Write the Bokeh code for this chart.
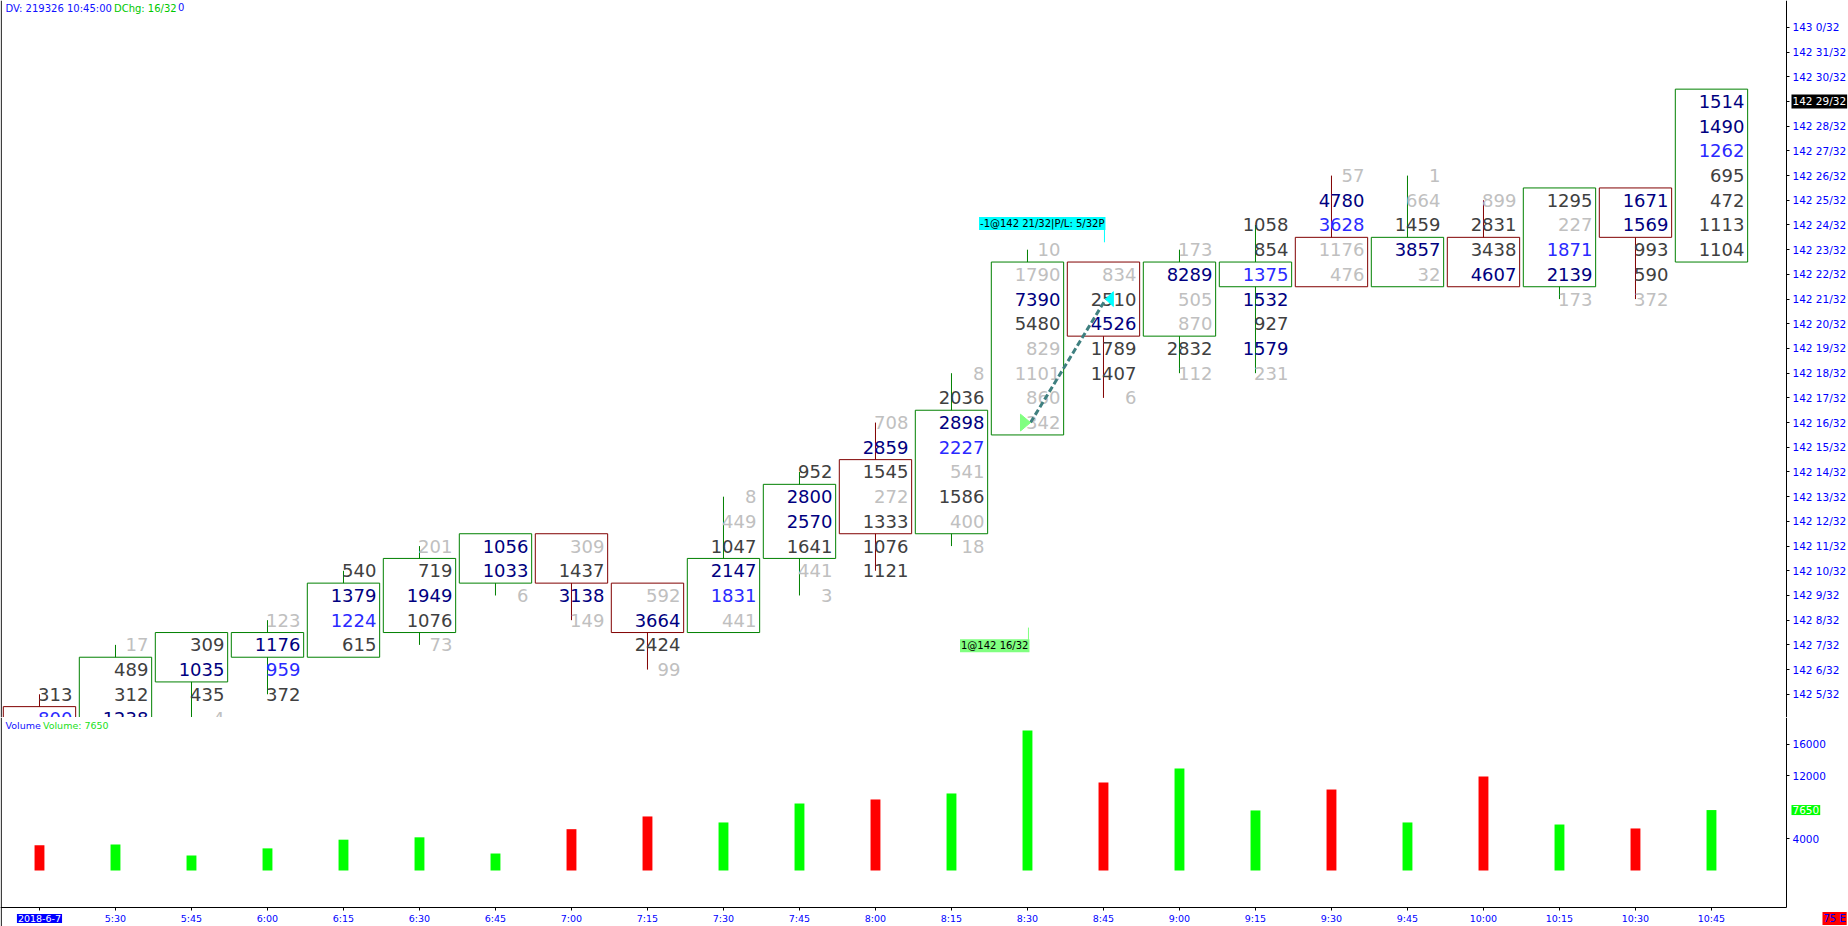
import math
from bokeh.plotting import figure
from bokeh.models import Range1d, FixedTicker, Label, Span, LinearAxis
from bokeh.layouts import column
from bokeh.embed import file_html
from bokeh.resources import INLINE
from bokeh.core.properties import value

FONT = "DejaVu Sans"

# ---------------- data ----------------
times = ["5:15", "5:30", "5:45", "6:00", "6:15", "6:30", "6:45", "7:00", "7:15", "7:30",
         "7:45", "8:00", "8:15", "8:30", "8:45", "9:00", "9:15", "9:30", "9:45", "10:00",
         "10:15", "10:30", "10:45"]
date_label = "2018-6-7"
bar_up = [False, True, True, True, True, True, True, False, False, True, True, False,
          True, True, False, True, True, False, True, False, True, False, True]
# prices in 32nds above 142
high_ticks = [5, 7, 7, 8, 10, 11, 11, 11, 9, 13, 14, 16, 18, 23, 22, 23, 24, 26, 26, 25, 25, 25, 29]
box_top = [4, 6, 7, 7, 9, 10, 11, 11, 9, 10, 13, 14, 16, 22, 22, 22, 22, 23, 23, 23, 25, 25, 29]
box_bot = [2, 2, 6, 7, 7, 8, 10, 10, 8, 8, 11, 12, 12, 16, 20, 20, 22, 22, 22, 22, 22, 24, 23]
cell_values = [
    [313, 800],
    [17, 489, 312, 1238],
    [309, 1035, 435, 4],
    [123, 1176, 959, 372],
    [540, 1379, 1224, 615],
    [201, 719, 1949, 1076, 73],
    [1056, 1033, 6],
    [309, 1437, 3138, 149],
    [592, 3664, 2424, 99],
    [8, 449, 1047, 2147, 1831, 441],
    [952, 2800, 2570, 1641, 441, 3],
    [708, 2859, 1545, 272, 1333, 1076, 1121],
    [8, 2036, 2898, 2227, 541, 1586, 400, 18],
    [10, 1790, 7390, 5480, 829, 1101, 860, 342],
    [834, 2510, 4526, 1789, 1407, 6],
    [173, 8289, 505, 870, 2832, 112],
    [1058, 854, 1375, 1532, 927, 1579, 231],
    [57, 4780, 3628, 1176, 476],
    [1, 664, 1459, 3857, 32],
    [899, 2831, 3438, 4607],
    [1295, 227, 1871, 2139, 173],
    [1671, 1569, 993, 590, 372],
    [1514, 1490, 1262, 695, 472, 1113, 1104],
]
# N = strong (navy), B = blue, D = normal (dark grey), L = light grey
cell_classes = ["DB", "LDDN", "DNDL", "LNBD", "DNBD", "LDNDL", "NNL", "LDNL", "LNDL",
                "LLDNBL", "DNNDLL", "LNDLDDD", "LDNBLDLL", "LLNDLLLL", "LDNDDL", "LNLLDL",
                "DDBNDNL", "LNBLL", "LLDNL", "LDDN", "DLBNL", "NNDDL", "NNBDDDD"]
volumes = [3200, 3300, 1900, 2800, 3900, 4200, 2150, 5230, 6840, 6080, 8480, 8990, 9750,
           17720, 11140, 12910, 7600, 10250, 6080, 11900, 5820, 5320, 7650]
price_ticks = list(range(5, 33))
volume_ticks = [4000, 12000, 16000]
last_price = 29
last_volume = 7650
entry_bar, entry_price, entry_text = 13, 16, "1@142 16/32"
exit_bar, exit_price, exit_text = 14, 21, "-1@142 21/32|P/L: 5/32P"
header_parts = [("DV: 219326 10:45:00", "#1010ff"), ("DChg: 16/32", "#00c800"), ("0", "#1010ff")]
volume_header = [("Volume", "#1010ff"), ("Volume: 7650", "#20e020")]
status_text = "75 E"

# ---------------- styles / layout ----------------
CMAP = {"N": "#000080", "B": "#2a2aff", "D": "#404040", "L": "#c0c0c0"}
UP_BOX, DN_BOX = "#008000", "#800000"
UP_VOL, DN_VOL = "#00ff00", "#ff0000"
HALF_W = 0.476
TEXT_DX = 0.434
X_RANGE = Range1d(-0.513, 23.803)
AXIS_X = 22.987            # right price/volume axis position
VOL_TOP, VOL_BOTTOM = 19367, -7089
VOL_AXIS_Y = -4684         # time axis position
LABEL_Y = -6076
W = 1848


def price_label(p):
    return f"{142 + p // 32} {p % 32}/32"


def style_axis(a, size):
    a.major_label_text_color = "#0000ff"
    a.major_label_text_font = FONT
    a.major_label_text_font_size = size
    a.major_tick_out = 3
    a.major_tick_in = 0
    a.minor_tick_out = 0
    a.minor_tick_in = 0
    a.axis_line_color = "black"
    a.major_tick_line_color = "black"


# ---------------- price panel ----------------
p = figure(output_backend="svg", toolbar_location=None, width=W, height=717,
           x_range=X_RANGE, y_range=Range1d(4.06, 33.089),
           x_axis_location=None, y_axis_location=None,
           min_border=0, outline_line_color=None,
           background_fill_color="white", border_fill_color="white")
p.xgrid.visible = False
p.ygrid.visible = False
ax = LinearAxis(fixed_location=AXIS_X, ticker=FixedTicker(ticks=price_ticks),
                major_label_overrides={t: price_label(t) for t in price_ticks},
                major_label_standoff=3)
style_axis(ax, "10.5px")
p.add_layout(ax, "right")

cx, cy, ct, cc = [], [], [], []
for i, (h, vals, cls) in enumerate(zip(high_ticks, cell_values, cell_classes)):
    for k, (v, c) in enumerate(zip(vals, cls)):
        cx.append(i + TEXT_DX)
        cy.append(h - k)
        ct.append(str(v))
        cc.append(CMAP[c])

# wicks
wx0, wy0, wy1, wc = [], [], [], []
for i, (h, vals) in enumerate(zip(high_ticks, cell_values)):
    low = h - len(vals) + 1
    col = UP_BOX if bar_up[i] else DN_BOX
    if h > box_top[i]:
        wx0.append(i); wy0.append(box_top[i] + 0.5); wy1.append(h); wc.append(col)
    if low < box_bot[i]:
        wx0.append(i); wy0.append(box_bot[i] - 0.5); wy1.append(low); wc.append(col)
p.segment(x0=wx0, y0=wy0, x1=wx0, y1=wy1, line_color=wc, line_width=1)

bx = list(range(len(times)))
p.quad(left=[i - HALF_W for i in bx], right=[i + HALF_W for i in bx],
       top=[t + 0.5 for t in box_top], bottom=[b - 0.5 for b in box_bot],
       fill_color=None, line_color=[UP_BOX if u else DN_BOX for u in bar_up], line_width=1)

p.text(x=cx, y=cy, text=ct, text_color=cc, text_align="right", text_baseline="middle",
       text_font=value(FONT), text_font_size="18px")

# trade markers
ex = entry_bar
p.line(x=[entry_bar + 0.04, exit_bar + 0.03], y=[entry_price, exit_price],
       line_color="#3f8080", line_width=3, line_dash="6 3")
p.patch(x=[ex - 0.092, ex - 0.092, ex + 0.04], y=[entry_price - 0.34, entry_price + 0.34, entry_price],
        fill_color="#80ff80", line_color="#80ff80")
p.patch(x=[exit_bar + 0.13, exit_bar + 0.13, exit_bar + 0.026],
        y=[exit_price - 0.30, exit_price + 0.30, exit_price],
        fill_color="#00ffff", line_color="#00ffff")
p.segment(x0=[exit_bar + 0.013], y0=[exit_price + 2.8], x1=[exit_bar + 0.013], y1=[exit_price + 2.3],
          line_color="#00ffff", line_width=1)
p.segment(x0=[entry_bar + 0.013], y0=[entry_price - 8.3], x1=[entry_bar + 0.013], y1=[entry_price - 8.8],
          line_color="#80ff80", line_width=1)
p.add_layout(Label(x=exit_bar + 0.026, y=exit_price + 3.06, text=exit_text, text_align="right",
                   text_baseline="middle", text_font=FONT, text_font_size="10px",
                   text_color="black", background_fill_color="#00ffff", padding=1))
p.add_layout(Label(x=entry_bar + 0.026, y=entry_price - 9.04, text=entry_text, text_align="right",
                   text_baseline="middle", text_font=FONT, text_font_size="10px",
                   text_color="black", background_fill_color="#80ff80", padding=1))

# last price highlight
p.add_layout(Label(x=AXIS_X, y=last_price, x_offset=5, text=price_label(last_price),
                   text_align="left", text_baseline="middle", text_font=FONT,
                   text_font_size="10.5px", text_color="white", background_fill_color="black",
                   padding=1))

# header
off = 5
for txt, col in header_parts:
    p.add_layout(Label(x=X_RANGE.start, y=33.089, x_offset=off, y_offset=-2, text=txt,
                       text_align="left", text_baseline="top", text_font=FONT,
                       text_font_size="10px", text_color=col))
    off += len(txt) * 5.55 + 3

p.add_layout(Span(location=X_RANGE.start + 0.01, dimension="height", line_color="black", line_width=1))

# ---------------- volume panel ----------------
v = figure(output_backend="svg", toolbar_location=None, width=W, height=209,
           x_range=X_RANGE, y_range=Range1d(VOL_BOTTOM, VOL_TOP),
           x_axis_location=None, y_axis_location=None,
           min_border=0, outline_line_color=None,
           background_fill_color="white", border_fill_color="white")
v.xgrid.visible = False
v.ygrid.visible = False
vy = LinearAxis(fixed_location=AXIS_X, ticker=FixedTicker(ticks=volume_ticks),
                bounds=(VOL_AXIS_Y, VOL_TOP), major_label_standoff=3)
style_axis(vy, "10.5px")
v.add_layout(vy, "right")
vx = LinearAxis(fixed_location=VOL_AXIS_Y, ticker=FixedTicker(ticks=bx),
                bounds=(X_RANGE.start, AXIS_X),
                major_label_overrides={i: (" " if i == 0 else t) for i, t in enumerate(times)},
                major_label_standoff=2)
style_axis(vx, "9.5px")
v.add_layout(vx, "below")

v.vbar(x=bx, width=0.13, top=volumes, bottom=0,
       fill_color=[UP_VOL if u else DN_VOL for u in bar_up], line_color=None)

v.add_layout(Label(x=AXIS_X, y=last_volume, x_offset=5, text=str(last_volume),
                   text_align="left", text_baseline="middle", text_font=FONT,
                   text_font_size="10.5px", text_color="white", background_fill_color="#00ff00",
                   padding=1))
off = 5
for txt, col in volume_header:
    v.add_layout(Label(x=X_RANGE.start, y=VOL_TOP, x_offset=off, y_offset=-2, text=txt,
                       text_align="left", text_baseline="top", text_font=FONT,
                       text_font_size="9.5px", text_color=col))
    off += len(txt) * 5.4 + 5
v.add_layout(Label(x=0, y=LABEL_Y, text=date_label, text_align="center", text_baseline="middle",
                   text_font=FONT, text_font_size="9.5px", text_color="white",
                   background_fill_color="#0000ff", padding=1))
v.add_layout(Label(x=23.62, y=LABEL_Y, text=status_text, text_align="center", text_baseline="middle",
                   text_font=FONT, text_font_size="10px", text_color="#0000ff",
                   background_fill_color="#ff0000", padding=1))
v.add_layout(Span(location=X_RANGE.start + 0.01, dimension="height", line_color="black", line_width=1))

layout = column(p, v, spacing=0)
open("out.html", "w").write(file_html(layout, INLINE))
